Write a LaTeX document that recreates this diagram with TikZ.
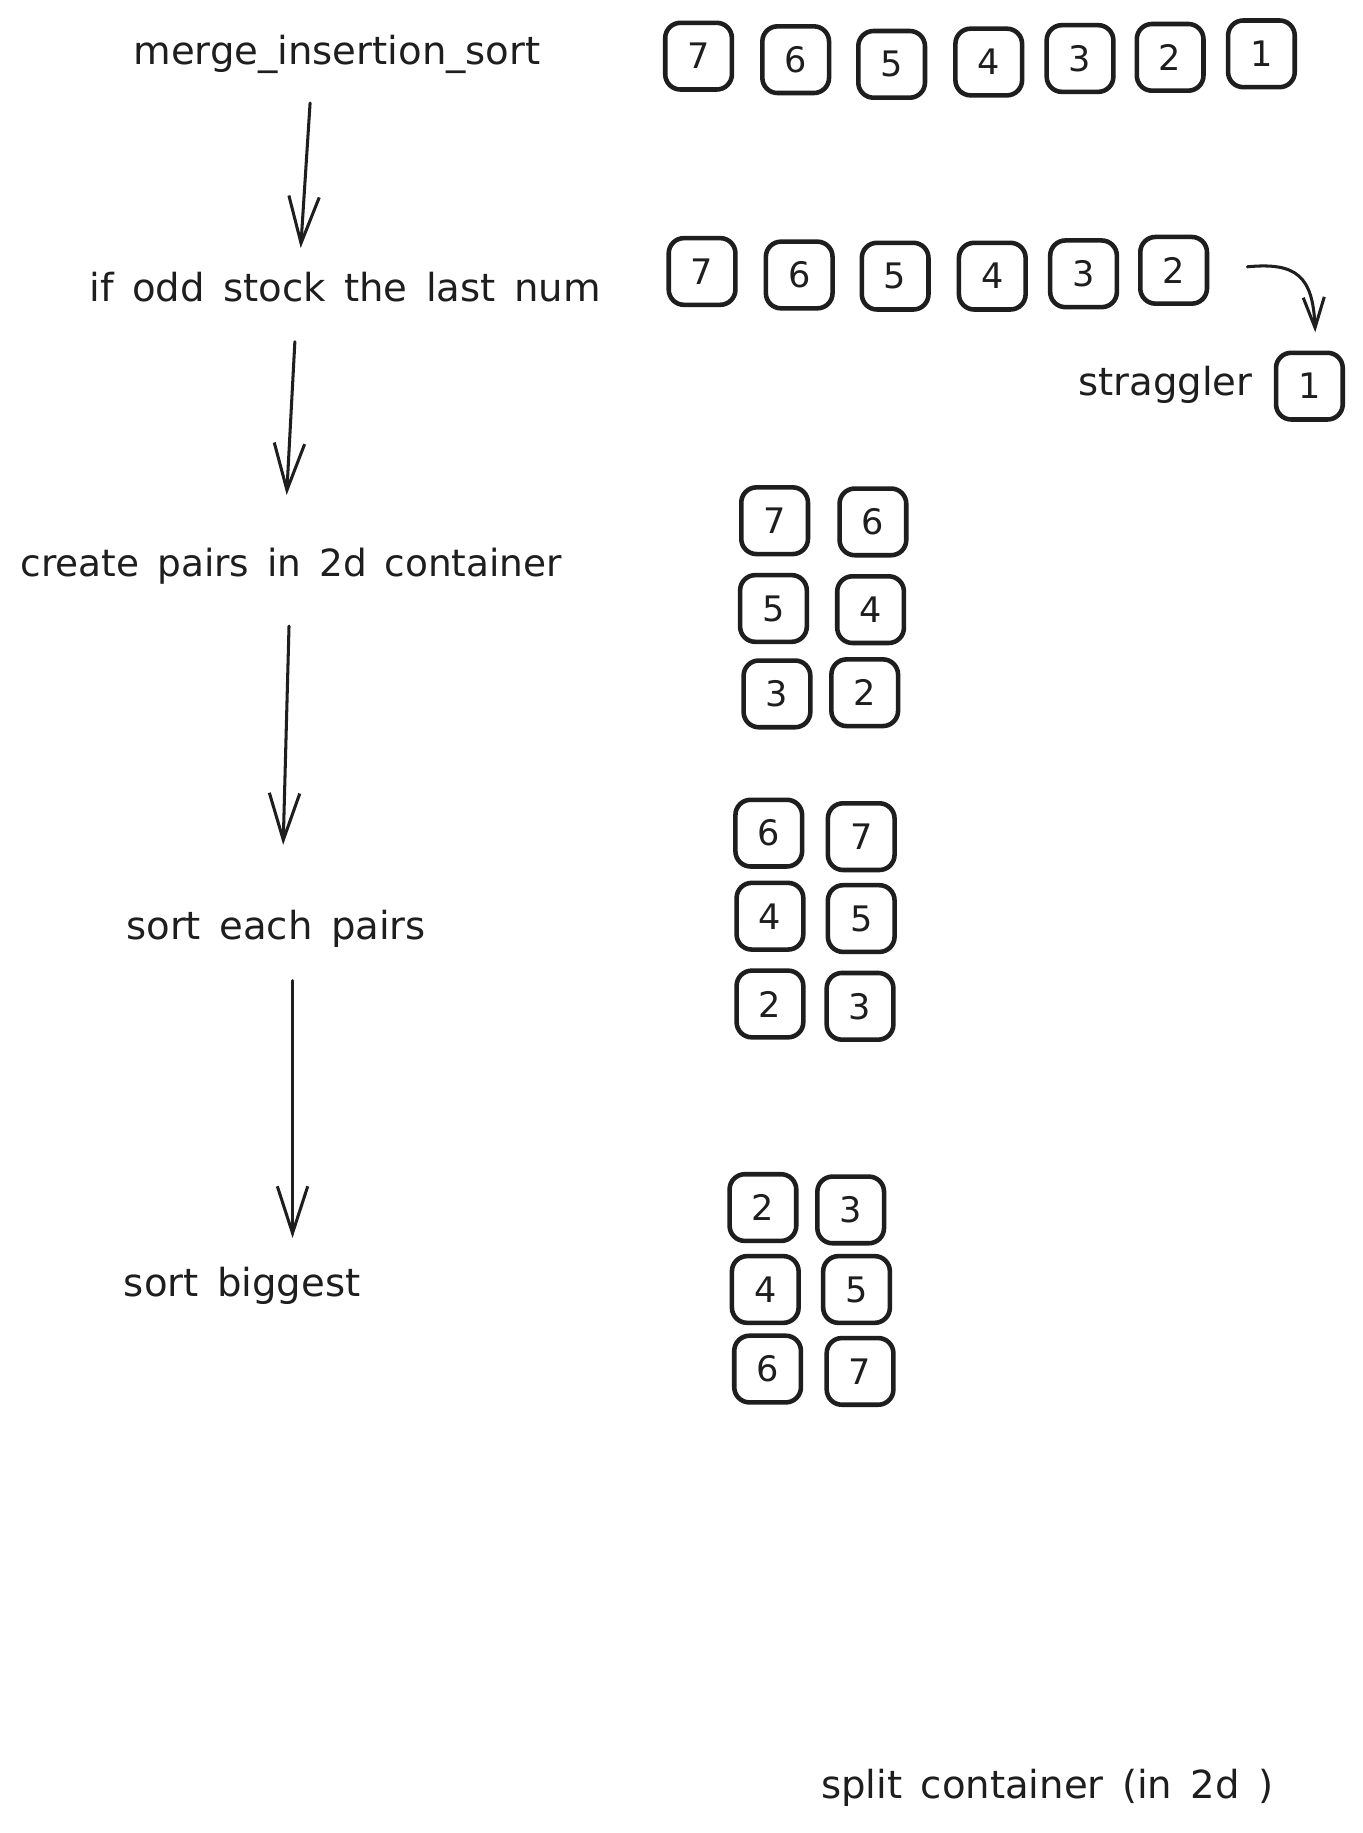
\documentclass[tikz,border=0pt]{standalone}
\usepackage{fontspec}
\setmainfont[WordSpace=1.5]{DejaVu Sans}
\usetikzlibrary{arrows.meta}
\definecolor{ink}{HTML}{1E1E1E}
\begin{document}
\begin{tikzpicture}[x=1pt,y=-1pt,
  numbox/.style={draw=ink, line width=3.9pt, rounded corners=13pt, minimum width=57pt, minimum height=57pt, inner sep=0pt, font=\fontsize{30}{30}\selectfont, text=ink},
  lbl/.style={anchor=base, inner sep=0pt, font=\fontsize{33}{33}\selectfont, text=ink},
  flow/.style={draw=ink, line width=2.6pt, line cap=round, -{Straight Barb[length=40pt,width=26pt,line width=2.6pt]}},
  small/.style={draw=ink, line width=2.6pt, line cap=round, -{Straight Barb[length=26pt,width=18pt,line width=2.6pt]}}]
\useasboundingbox (0,0) rectangle (1164,1566.5);
\fill[white] (0,0) rectangle (1164,1566.5);
% labels
\node[lbl] (t1) at (288,55) {merge\_insertion\_sort};
\node[lbl] (t2) at (295,258) {if odd stock the last num};
\node[lbl, font=\fontsize{32}{32}\selectfont] (t3) at (249,493) {create pairs in 2d container};
\node[lbl] (t4) at (236,803) {sort each pairs};
\node[lbl] (t5) at (207,1108) {sort biggest};
\node[lbl] (t6) at (996,338) {straggler};
\node[lbl] (t7) at (895,1537) {split container (in 2d )};
% row 1
\node[numbox] (r1a) at (597,48) {7};
\node[numbox] (r1b) at (680,51) {6};
\node[numbox] (r1c) at (762,55) {5};
\node[numbox] (r1d) at (845,53) {4};
\node[numbox] (r1e) at (923,50) {3};
\node[numbox] (r1f) at (1000,49) {2};
\node[numbox] (r1g) at (1078,46) {1};
% row 2
\node[numbox] (r2a) at (600,232) {7};
\node[numbox] (r2b) at (683,235) {6};
\node[numbox] (r2c) at (765,236) {5};
\node[numbox] (r2d) at (848,236) {4};
\node[numbox] (r2e) at (926,234) {3};
\node[numbox] (r2f) at (1003,231) {2};
\node[numbox] (st) at (1119,330) {1};
% grid 1
\node[numbox] (g1a) at (662,445) {7};
\node[numbox] (g1b) at (746,446) {6};
\node[numbox] (g1c) at (661,520) {5};
\node[numbox] (g1d) at (744,521) {4};
\node[numbox] (g1e) at (664,593) {3};
\node[numbox] (g1f) at (739,592) {2};
% grid 2
\node[numbox] (g2a) at (657,712) {6};
\node[numbox] (g2b) at (736,715) {7};
\node[numbox] (g2c) at (658,783) {4};
\node[numbox] (g2d) at (736,785) {5};
\node[numbox] (g2e) at (658,858) {2};
\node[numbox] (g2f) at (735,860) {3};
% grid 3
\node[numbox] (g3a) at (652,1032) {2};
\node[numbox] (g3b) at (727,1034) {3};
\node[numbox] (g3c) at (654,1102) {4};
\node[numbox] (g3d) at (732,1102) {5};
\node[numbox] (g3e) at (656,1170) {6};
\node[numbox] (g3f) at (735,1172) {7};
% arrow end points
\coordinate (a1s) at (265,88);  \coordinate (a1e) at (257,212);
\coordinate (a2s) at (252,292); \coordinate (a2e) at (245,423);
\coordinate (a3s) at (247,535); \coordinate (a3e) at (242,722);
\coordinate (a4s) at (250,838); \coordinate (a4e) at (250,1058);
\coordinate (c1) at (1066,228); \coordinate (c2) at (1124,284);
\draw[flow] (a1s) -- (a1e);
\draw[flow] (a2s) -- (a2e);
\draw[flow] (a3s) -- (a3e);
\draw[flow] (a4s) -- (a4e);
\draw[small] (c1) .. controls (1108,224) and (1122,236) .. (c2);
\end{tikzpicture}
\end{document}
